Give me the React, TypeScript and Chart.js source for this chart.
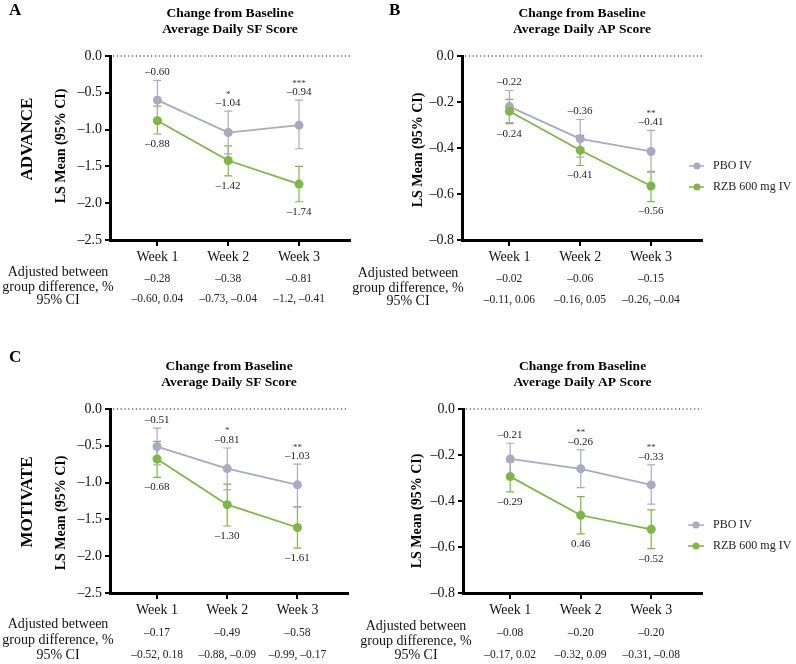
import React, { useEffect, useRef } from "react";
import { Chart, registerables } from "chart.js";

Chart.register(...registerables);

const FONT = '"Liberation Serif", "Times New Roman", serif';

// ---------- shared ----------
const weeks = ["Week 1", "Week 2", "Week 3"];
const groupNames = ["PBO IV", "RZB 600 mg IV"];
const groupColors = ["#a9aabf", "#7fb646"];
const rowLabels = ["Adjusted between", "group difference, %", "95% CI"];
const sfTitle = ["Change from Baseline", "Average Daily SF Score"];
const apTitle = ["Change from Baseline", "Average Daily AP Score"];
const yAxisTitle = "LS Mean (95% CI)";

// ---------- Panel A: ADVANCE, SF ----------
const advSfPboMean = [-0.6, -1.04, -0.94];
const advSfPboLow = [-0.87, -1.33, -1.26];
const advSfPboHigh = [-0.33, -0.75, -0.6];
const advSfRzbMean = [-0.88, -1.42, -1.74];
const advSfRzbLow = [-1.06, -1.63, -1.98];
const advSfRzbHigh = [-0.68, -1.22, -1.5];
const advSfPboLabels = ["–0.60", "–1.04", "–0.94"];
const advSfRzbLabels = ["–0.88", "–1.42", "–1.74"];
const advSfStars = ["", "*", "***"];
const advSfDiff = ["–0.28", "–0.38", "–0.81"];
const advSfCI = ["–0.60, 0.04", "–0.73, –0.04", "–1.2, –0.41"];

// ---------- Panel B: ADVANCE, AP ----------
const advApPboMean = [-0.22, -0.36, -0.415];
const advApPboLow = [-0.29, -0.44, -0.505];
const advApPboHigh = [-0.15, -0.276, -0.323];
const advApRzbMean = [-0.24, -0.41, -0.565];
const advApRzbLow = [-0.294, -0.476, -0.633];
const advApRzbHigh = [-0.189, -0.345, -0.502];
const advApPboLabels = ["–0.22", "–0.36", "–0.41"];
const advApRzbLabels = ["–0.24", "–0.41", "–0.56"];
const advApStars = ["", "", "**"];
const advApDiff = ["–0.02", "–0.06", "–0.15"];
const advApCI = ["–0.11, 0.06", "–0.16, 0.05", "–0.26, –0.04"];

// ---------- Panel C: MOTIVATE, SF ----------
const motSfPboMean = [-0.51, -0.81, -1.03];
const motSfPboLow = [-0.76, -1.1, -1.33];
const motSfPboHigh = [-0.26, -0.53, -0.75];
const motSfRzbMean = [-0.68, -1.3, -1.61];
const motSfRzbLow = [-0.93, -1.59, -1.89];
const motSfRzbHigh = [-0.44, -1.02, -1.33];
const motSfPboLabels = ["–0.51", "–0.81", "–1.03"];
const motSfRzbLabels = ["–0.68", "–1.30", "–1.61"];
const motSfStars = ["", "*", "**"];
const motSfDiff = ["–0.17", "–0.49", "–0.58"];
const motSfCI = ["–0.52, 0.18", "–0.88, –0.09", "–0.99, –0.17"];

// ---------- Panel D: MOTIVATE, AP ----------
const motApPboMean = [-0.217, -0.26, -0.33];
const motApPboLow = [-0.285, -0.342, -0.414];
const motApPboHigh = [-0.149, -0.178, -0.243];
const motApRzbMean = [-0.294, -0.462, -0.523];
const motApRzbLow = [-0.36, -0.543, -0.607];
const motApRzbHigh = [-0.23, -0.381, -0.439];
const motApPboLabels = ["–0.21", "–0.26", "–0.33"];
const motApRzbLabels = ["–0.29", "0.46", "–0.52"];
const motApStars = ["", "**", "**"];
const motApDiff = ["–0.08", "–0.20", "–0.20"];
const motApCI = ["–0.17, 0.02", "–0.32, 0.09", "–0.31, –0.08"];

const Y_AXIS_W = 45;
const X_AXIS_H = 30;

type Group = { name: string; color: string; mean: number[]; low: number[]; high: number[]; labels: string[] };

const mkGroups = (pm, pl, ph, plab, rm, rl, rh, rlab): Group[] => [
  { name: groupNames[0], color: groupColors[0], mean: pm, low: pl, high: ph, labels: plab },
  { name: groupNames[1], color: groupColors[1], mean: rm, low: rl, high: rh, labels: rlab },
];

const panels = [
  {
    key: "A",
    canvas: { left: 0, top: 0, w: 398, h: 332 },
    area: { l: 110, r: 350, t: 56, b: 240 },
    yMin: -2.5, yStep: 0.5,
    letter: { text: "A", x: 9, y: 11 },
    title: sfTitle, titleY: [14, 30],
    study: { text: "ADVANCE", x: 28, y: 139 },
    yTitle: { x: 61, y: 146 },
    rowLabelX: 58, rowY: [272, 287, 300], diffY: 279, ciY: 299,
    groups: mkGroups(advSfPboMean, advSfPboLow, advSfPboHigh, advSfPboLabels, advSfRzbMean, advSfRzbLow, advSfRzbHigh, advSfRzbLabels),
    stars: advSfStars, diff: advSfDiff, ci: advSfCI, legend: null,
  },
  {
    key: "B",
    canvas: { left: 330, top: 0, w: 466, h: 332 },
    area: { l: 462, r: 702, t: 56, b: 240 },
    yMin: -0.8, yStep: 0.2,
    letter: { text: "B", x: 389, y: 11 },
    title: apTitle, titleY: [14, 30],
    study: null,
    yTitle: { x: 418, y: 150 },
    rowLabelX: 408, rowY: [273, 288, 301], diffY: 279, ciY: 300,
    groups: mkGroups(advApPboMean, advApPboLow, advApPboHigh, advApPboLabels, advApRzbMean, advApRzbLow, advApRzbHigh, advApRzbLabels),
    stars: advApStars, diff: advApDiff, ci: advApCI,
    legend: { x1: 689, x2: 704, mx: 697, tx: 713, y: [166, 187] },
  },
  {
    key: "C",
    canvas: { left: 0, top: 332, w: 398, h: 332 },
    area: { l: 110, r: 348, t: 409, b: 593 },
    yMin: -2.5, yStep: 0.5,
    letter: { text: "C", x: 9, y: 358 },
    title: sfTitle, titleY: [367, 383],
    study: { text: "MOTIVATE", x: 28, y: 502 },
    yTitle: { x: 61, y: 513 },
    rowLabelX: 58, rowY: [624, 640, 655], diffY: 633, ciY: 655,
    groups: mkGroups(motSfPboMean, motSfPboLow, motSfPboHigh, motSfPboLabels, motSfRzbMean, motSfRzbLow, motSfRzbHigh, motSfRzbLabels),
    stars: motSfStars, diff: motSfDiff, ci: motSfCI, legend: null,
  },
  {
    key: "D",
    canvas: { left: 330, top: 332, w: 466, h: 332 },
    area: { l: 463, r: 702, t: 409, b: 593 },
    yMin: -0.8, yStep: 0.2,
    letter: null,
    title: apTitle, titleY: [367, 383],
    study: null,
    yTitle: { x: 417, y: 511 },
    rowLabelX: 416, rowY: [626, 641, 655], diffY: 633, ciY: 655,
    groups: mkGroups(motApPboMean, motApPboLow, motApPboHigh, motApPboLabels, motApRzbMean, motApRzbLow, motApRzbHigh, motApRzbLabels),
    stars: motApStars, diff: motApDiff, ci: motApCI,
    legend: { x1: 688, x2: 704, mx: 696, tx: 713, y: [525, 546] },
  },
];

const fmtTick = (v: number) => {
  if (Math.abs(v) < 1e-9) return "0.0";
  return (v < 0 ? "–" : "") + Math.abs(v).toFixed(1);
};

function makeDecor(p) {
  const ox = p.canvas.left;
  const oy = p.canvas.top;
  const text = (ctx, s, x, y, font, align = "center", color = "#111") => {
    ctx.font = font;
    ctx.fillStyle = color;
    ctx.textAlign = align;
    ctx.textBaseline = "middle";
    ctx.fillText(s, x, y);
  };
  return {
    id: "decor" + p.key,
    beforeDatasetsDraw(chart) {
      const ctx = chart.ctx;
      const area = chart.chartArea;
      const xs = chart.scales.x;
      const ys = chart.scales.y;
      ctx.save();
      ctx.strokeStyle = "#111";
      ctx.lineWidth = 1.2;
      ctx.setLineDash([1.2, 2.6]);
      const y0 = ys.getPixelForValue(0);
      ctx.beginPath();
      ctx.moveTo(area.left + 3, y0);
      ctx.lineTo(area.right, y0);
      ctx.stroke();
      ctx.setLineDash([]);
      [...p.groups].reverse().forEach((g) => {
        ctx.strokeStyle = g.color;
        ctx.lineWidth = 1.2;
        g.low.forEach((lo, i) => {
          const px = xs.getPixelForValue(i + 1);
          const pl = ys.getPixelForValue(lo);
          const ph = ys.getPixelForValue(g.high[i]);
          ctx.beginPath();
          ctx.moveTo(px, ph);
          ctx.lineTo(px, pl);
          ctx.moveTo(px - 4, ph);
          ctx.lineTo(px + 4, ph);
          ctx.moveTo(px - 4, pl);
          ctx.lineTo(px + 4, pl);
          ctx.stroke();
        });
      });
      ctx.restore();
    },
    afterDraw(chart) {
      const ctx = chart.ctx;
      const area = chart.chartArea;
      const xs = chart.scales.x;
      const ys = chart.scales.y;
      ctx.save();
      const pbo = p.groups[0];
      const rzb = p.groups[1];
      pbo.labels.forEach((s, i) => {
        const px = xs.getPixelForValue(i + 1);
        const py = ys.getPixelForValue(pbo.high[i]) - 8;
        text(ctx, s, px, py, `11px ${FONT}`, "center", "#222");
        if (p.stars[i]) text(ctx, p.stars[i], px, py - 9, `9px ${FONT}`, "center", "#333");
      });
      rzb.labels.forEach((s, i) => {
        const px = xs.getPixelForValue(i + 1);
        const py = ys.getPixelForValue(rzb.low[i]) + 10;
        text(ctx, s, px, py, `11px ${FONT}`, "center", "#222");
      });
      if (p.letter) text(ctx, p.letter.text, p.letter.x - ox, p.letter.y - oy, `bold 17px ${FONT}`, "left", "#000");
      const cx = (area.left + area.right) / 2;
      p.title.forEach((t, i) => text(ctx, t, cx, p.titleY[i] - oy, `bold 13.5px ${FONT}`, "center", "#000"));
      if (p.study) {
        ctx.save();
        ctx.translate(p.study.x - ox, p.study.y - oy);
        ctx.rotate(-Math.PI / 2);
        text(ctx, p.study.text, 0, 0, `bold 17px ${FONT}`, "center", "#000");
        ctx.restore();
      }
      ctx.save();
      ctx.translate(p.yTitle.x - ox, p.yTitle.y - oy);
      ctx.rotate(-Math.PI / 2);
      text(ctx, yAxisTitle, 0, 0, `bold 14px ${FONT}`, "center", "#000");
      ctx.restore();
      rowLabels.forEach((r, i) => text(ctx, r, p.rowLabelX - ox, p.rowY[i] - oy, `14px ${FONT}`, "center", "#111"));
      p.diff.forEach((d, i) => {
        const px = xs.getPixelForValue(i + 1);
        text(ctx, d, px, p.diffY - oy, `11.5px ${FONT}`, "center", "#222");
        text(ctx, p.ci[i], px, p.ciY - oy, `11.5px ${FONT}`, "center", "#222");
      });
      if (p.legend) {
        const L = p.legend;
        p.groups.forEach((g, i) => {
          const ly = L.y[i] - oy;
          ctx.strokeStyle = g.color;
          ctx.lineWidth = 1.5;
          ctx.beginPath();
          ctx.moveTo(L.x1 - ox, ly);
          ctx.lineTo(L.x2 - ox, ly);
          ctx.stroke();
          ctx.fillStyle = g.color;
          ctx.beginPath();
          ctx.arc(L.mx - ox, ly, 3.5, 0, Math.PI * 2);
          ctx.fill();
          text(ctx, g.name, L.tx - ox, ly, `12px ${FONT}`, "left", "#222");
        });
      }
      ctx.restore();
    },
  };
}

function Panel({ p }) {
  const ref = useRef<HTMLCanvasElement | null>(null);
  useEffect(() => {
    const c = p.canvas;
    const a = p.area;
    const padding = {
      left: a.l - c.left - Y_AXIS_W,
      right: c.left + c.w - a.r,
      top: a.t - c.top,
      bottom: c.top + c.h - a.b - X_AXIS_H,
    };
    const chart = new Chart(ref.current as HTMLCanvasElement, {
      type: "line",
      data: {
        datasets: p.groups.map((g, gi) => ({
          label: g.name,
          data: g.mean.map((m, j) => ({ x: j + 1, y: m })),
          borderColor: g.color,
          backgroundColor: g.color,
          pointBackgroundColor: g.color,
          pointBorderColor: g.color,
          pointRadius: 4.5,
          pointBorderWidth: 0,
          borderWidth: 1.8,
          tension: 0,
          order: gi === 0 ? 1 : 0,
        })),
      },
      options: {
        responsive: false,
        animation: false,
        devicePixelRatio: 1,
        layout: { padding },
        plugins: { legend: { display: false }, tooltip: { enabled: false } },
        scales: {
          x: {
            type: "linear",
            min: 0.33,
            max: 3.72,
            afterBuildTicks: (s) => {
              s.ticks = weeks.map((_, i) => ({ value: i + 1 }));
            },
            afterFit: (s) => {
              s.height = X_AXIS_H;
            },
            ticks: {
              autoSkip: false,
              maxRotation: 0,
              padding: 3,
              color: "#111",
              font: { family: FONT, size: 14 },
              callback: (v) => weeks[Math.round(Number(v)) - 1] ?? "",
            },
            grid: { display: true, drawOnChartArea: false, drawTicks: true, tickLength: 6, color: "#000", lineWidth: 2 },
            border: { display: true, color: "#000", width: 3 },
          },
          y: {
            type: "linear",
            min: p.yMin,
            max: 0,
            afterFit: (s) => {
              s.width = Y_AXIS_W;
            },
            ticks: {
              stepSize: p.yStep,
              padding: 3,
              color: "#111",
              font: { family: FONT, size: 14 },
              callback: (v) => fmtTick(Number(v)),
            },
            grid: { display: true, drawOnChartArea: false, drawTicks: true, tickLength: 5, color: "#000", lineWidth: 2 },
            border: { display: true, color: "#000", width: 3 },
          },
        },
      },
      plugins: [makeDecor(p)],
    });
    return () => chart.destroy();
  }, [p]);
  return (
    <canvas
      ref={ref}
      width={p.canvas.w}
      height={p.canvas.h}
      style={{ position: "absolute", left: p.canvas.left, top: p.canvas.top, width: p.canvas.w, height: p.canvas.h, display: "block" }}
    />
  );
}

export default function App() {
  return (
    <div style={{ position: "absolute", left: 0, top: 0, width: 796, height: 664, background: "#fff", overflow: "hidden" }}>
      {panels.map((p) => (
        <Panel key={p.key} p={p} />
      ))}
    </div>
  );
}
